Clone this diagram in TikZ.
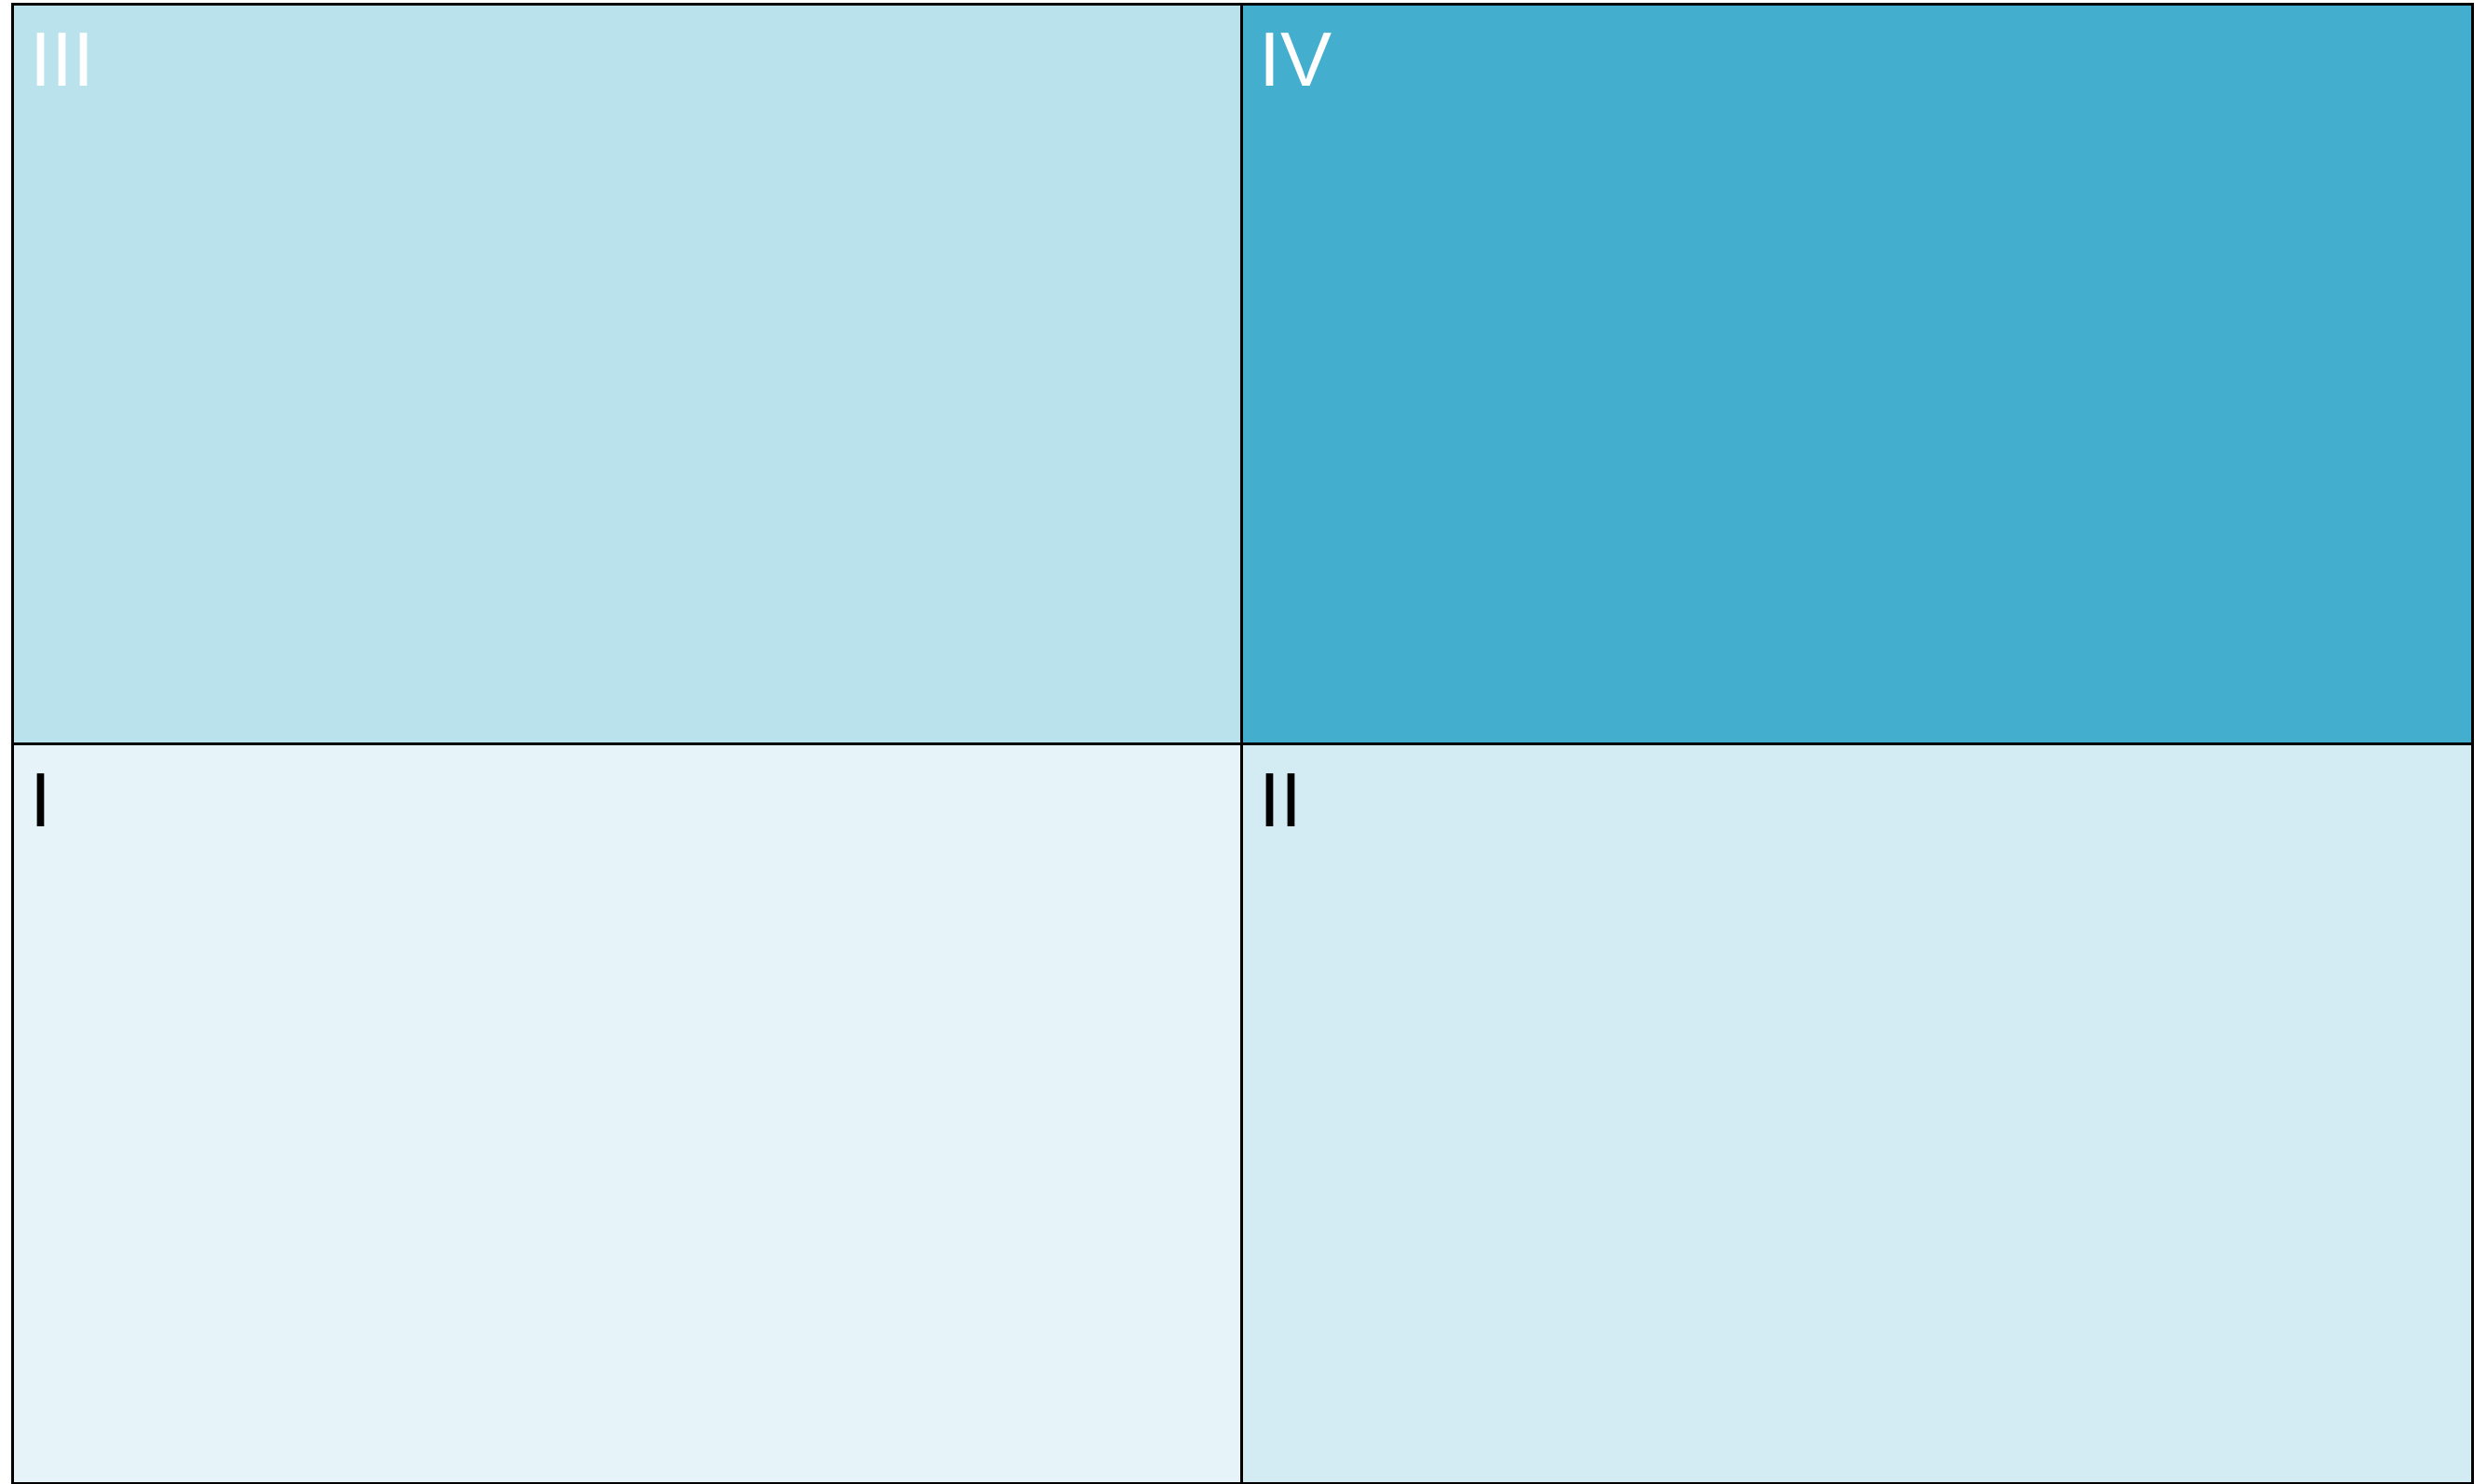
\documentclass[tikz,border=0pt]{standalone}
\usepackage{fontspec}
\setmainfont{Liberation Sans}
\usetikzlibrary{positioning}
\definecolor{quadI}{RGB}{230,244,250}
\definecolor{quadII}{RGB}{211,235,242}
\definecolor{quadIII}{RGB}{186,226,236}
\definecolor{quadIV}{RGB}{67,174,205}
\tikzset{
  quad/.style={draw,rectangle,line width=0.3mm,inner sep=0pt,outer sep=0pt,anchor=south west},
  tag/.style={inner sep=0pt,anchor=base west,font=\fontsize{23.5}{28}\selectfont}
}
\begin{document}
\begin{tikzpicture}
  \useasboundingbox (0,0) rectangle (26.69,15.92);
  \node[quad,fill=quadI,minimum width=13.19cm,minimum height=7.94cm] (q1) at (0.13,0) {};
  \node[quad,fill=quadII,minimum width=13.21cm,minimum height=7.94cm] (q2) at (13.32,0) {};
  \node[quad,fill=quadIII,minimum width=13.19cm,minimum height=7.93cm] (q3) at (0.13,7.94) {};
  \node[quad,fill=quadIV,minimum width=13.21cm,minimum height=7.93cm] (q4) at (13.32,7.94) {};

  \node[tag,text=white,xshift=0.19cm,yshift=-0.88cm] (t3) at (q3.north west) {III};
  \node[tag,text=white,xshift=0.19cm,yshift=-0.88cm] (t4) at (q4.north west) {IV};
  \node[tag,xshift=0.19cm,yshift=-0.89cm] (t1) at (q1.north west) {I};
  \node[tag,xshift=0.19cm,yshift=-0.89cm] (t2) at (q2.north west) {II};
\end{tikzpicture}
\end{document}
